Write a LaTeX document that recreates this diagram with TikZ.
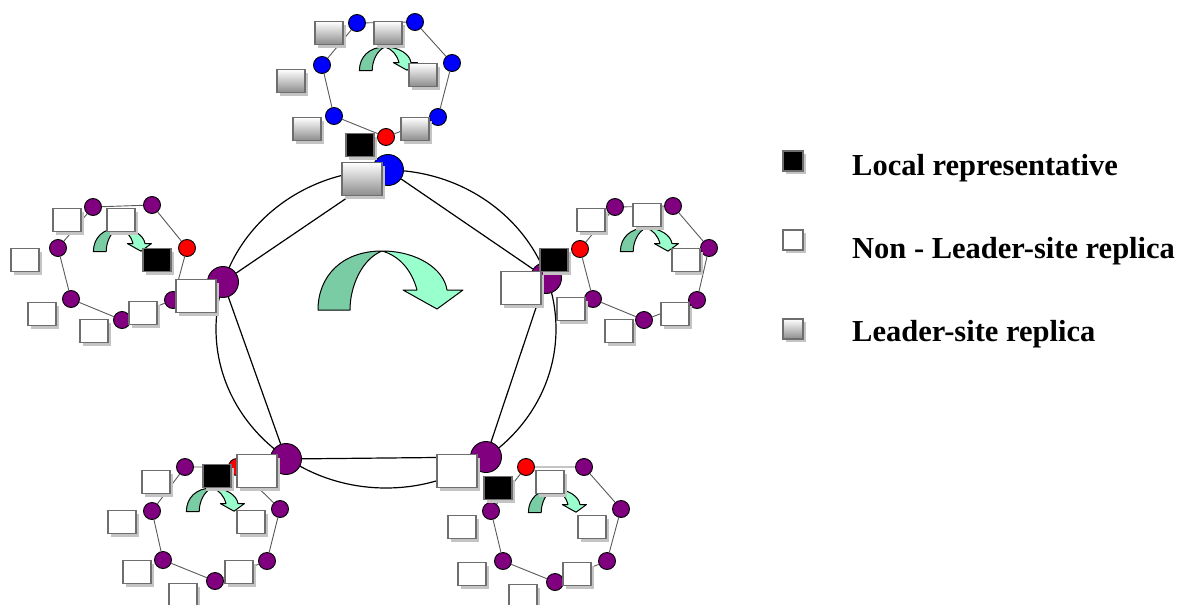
\documentclass[tikz,border=0pt]{standalone}
\usepackage{fontspec}
\setmainfont{Liberation Serif}
\usetikzlibrary{shadows}
\definecolor{sqborder}{HTML}{6E6E6E}
\definecolor{shadowgray}{HTML}{C4C4C4}
\definecolor{sitepurple}{HTML}{800080}
\definecolor{arrowdark}{HTML}{7ACCA5}
\definecolor{arrowlight}{HTML}{99FFCC}
\tikzset{
  x=1pt, y=-1pt,
  box/.style={rectangle, draw=sqborder, line width=1.9pt, inner sep=0pt,
    drop shadow={shadow xshift=3pt, shadow yshift=-3pt, fill=shadowgray, opacity=1}},
  plainbox/.style={box, fill=white, minimum width=28pt, minimum height=23pt},
  leadbox/.style={box, top color=white, bottom color=black!45, minimum width=28pt, minimum height=23pt},
  localbox/.style={box, fill=black, minimum width=28pt, minimum height=23pt},
  bigplain/.style={plainbox, minimum width=40pt, minimum height=33pt},
  biglead/.style={leadbox, minimum width=40pt, minimum height=33pt},
  legbox/.style={box, minimum width=20pt, minimum height=20pt, line width=1.5pt},
  dot/.style={circle, draw=black, line width=0.9pt, inner sep=0pt, minimum size=17pt},
  bigdot/.style={circle, draw=black, line width=0.9pt, inner sep=0pt, minimum size=31pt},
  link/.style={draw=black!65, line width=0.9pt},
  ring/.style={draw=black, line width=1.2pt},
  legtext/.style={anchor=base west, inner sep=0pt, font=\fontsize{30.5}{36}\selectfont\bfseries},
  curvarrow/.pic={
    \draw[line width=1pt, fill=arrowdark, line join=round]
      (0,0) .. controls (-40,0) and (-64,25) .. (-64,59) -- (-32,59)
      .. controls (-32,35) and (-20,8) .. (0,0) -- cycle;
    \draw[line width=1pt, fill=arrowlight, line join=round]
      (0,0) .. controls (35,0) and (62,18) .. (65,39) -- (81,39) -- (55,58)
      -- (21,39) -- (35,39) .. controls (30,20) and (18,5) .. (0,0) -- cycle;
  }
}
\begin{document}
\begin{tikzpicture}
\useasboundingbox (0,0) rectangle (1178,605);
\clip (0,0) rectangle (1178,605);

% ---- central ring of sites ----
\draw[ring] (386,329) ellipse [x radius=170pt, y radius=159pt];
\node[bigdot, fill=blue] (T) at (388,170) {};
\node[bigdot, fill=sitepurple] (L) at (223,282) {};
\node[bigdot, fill=sitepurple] (R) at (546,278) {};
\node[bigdot, fill=sitepurple] (BL) at (286,459) {};
\node[bigdot, fill=sitepurple] (BR) at (486,457) {};
\draw[ring] (T) -- (L) (L) -- (BL) (BL) -- (BR) (BR) -- (R) (R) -- (T);

\pic at (382,251) {curvarrow};

% ---- top site (leader site) ----
\node[dot, fill=blue] (t1) at (357,23) {};
\node[dot, fill=blue] (t2) at (415,22) {};
\node[dot, fill=blue] (t3) at (452,63) {};
\node[dot, fill=blue] (t4) at (438,117) {};
\node[dot, fill=red]  (t5) at (386,137) {};
\node[dot, fill=blue] (t6) at (334,116) {};
\node[dot, fill=blue] (t7) at (322,65) {};
\draw[link] (t1) -- (t2) (t2) -- (t3) (t3) -- (t4) (t4) -- (t5) (t5) -- (t6) (t6) -- (t7) (t7) -- (t1);
\pic[scale=0.4] at (385,47) {curvarrow};
\node[leadbox] (ta) at (329,33) {};
\node[leadbox] (tb) at (388,33) {};
\node[leadbox] (tc) at (423,75) {};
\node[leadbox] (td) at (291,81) {};
\node[leadbox] (te) at (307,129) {};
\node[leadbox] (tf) at (415,129) {};
\node[localbox] (tl) at (360,145) {};
\node[biglead] (tT) at (362,179) {};

% ---- left site ----
\node[dot, fill=sitepurple] (l1) at (93,207) {};
\node[dot, fill=sitepurple] (l2) at (152,205) {};
\node[dot, fill=red]        (l3) at (187,248) {};
\node[dot, fill=sitepurple] (l4) at (173,300) {};
\node[dot, fill=sitepurple] (l5) at (122,320) {};
\node[dot, fill=sitepurple] (l6) at (71,299) {};
\node[dot, fill=sitepurple] (l7) at (58,248) {};
\draw[link] (l1) -- (l2) (l2) -- (l3) (l3) -- (l4) (l4) -- (l5) (l5) -- (l6) (l6) -- (l7) (l7) -- (l1);
\pic[scale=0.4] at (119,228) {curvarrow};
\node[plainbox] (la) at (67,220) {};
\node[plainbox] (lb) at (121,220) {};
\node[plainbox] (lc) at (25,260) {};
\node[plainbox] (ld) at (42,314) {};
\node[plainbox] (le) at (94,331) {};
\node[plainbox] (lf) at (143,313) {};
\node[localbox] (ll) at (157,260) {};
\node[bigplain] (lL) at (196,296) {};

% ---- right site ----
\node[dot, fill=sitepurple] (r1) at (615,207) {};
\node[dot, fill=sitepurple] (r2) at (673,206) {};
\node[dot, fill=sitepurple] (r3) at (709,248) {};
\node[dot, fill=sitepurple] (r4) at (697,300) {};
\node[dot, fill=sitepurple] (r5) at (644,320) {};
\node[dot, fill=sitepurple] (r6) at (593,299) {};
\node[dot, fill=red]        (r7) at (580,249) {};
\draw[link] (r1) -- (r2) (r2) -- (r3) (r3) -- (r4) (r4) -- (r5) (r5) -- (r6) (r6) -- (r7) (r7) -- (r1);
\pic[scale=0.4] at (646,228) {curvarrow};
\node[plainbox] (ra) at (591,220) {};
\node[plainbox] (rb) at (647,215) {};
\node[plainbox] (rc) at (686,260) {};
\node[plainbox] (rd) at (571,309) {};
\node[plainbox] (re) at (619,331) {};
\node[plainbox] (rf) at (675,314) {};
\node[bigplain] (rR) at (521,288) {};
\node[localbox] (rl) at (554,260) {};

% ---- bottom-left site ----
\node[dot, fill=sitepurple] (a1) at (185,467) {};
\node[dot, fill=red]        (a2) at (237,467) {};
\node[dot, fill=sitepurple] (a3) at (280,509) {};
\node[dot, fill=sitepurple] (a4) at (267,561) {};
\node[dot, fill=sitepurple] (a5) at (215,581) {};
\node[dot, fill=sitepurple] (a6) at (163,560) {};
\node[dot, fill=sitepurple] (a7) at (152,511) {};
\draw[link] (a1) -- (a2) (a2) -- (a3) (a3) -- (a4) (a4) -- (a5) (a5) -- (a6) (a6) -- (a7) (a7) -- (a1);
\pic[scale=0.4] at (212,488) {curvarrow};
\node[plainbox] (aa) at (156,482) {};
\node[plainbox] (ab) at (122,522) {};
\node[plainbox] (ac) at (251,522) {};
\node[plainbox] (ad) at (137,572) {};
\node[plainbox] (ae) at (183,595) {};
\node[plainbox] (af) at (239,572) {};
\node[localbox] (al) at (217,476) {};
\node[bigplain] (aA) at (257,471) {};

% ---- bottom-right site ----
\node[dot, fill=red]        (b1) at (526,467) {};
\node[dot, fill=sitepurple] (b2) at (584,467) {};
\node[dot, fill=sitepurple] (b3) at (621,509) {};
\node[dot, fill=sitepurple] (b4) at (607,561) {};
\node[dot, fill=sitepurple] (b5) at (555,582) {};
\node[dot, fill=sitepurple] (b6) at (503,561) {};
\node[dot, fill=sitepurple] (b7) at (491,511) {};
\draw[link] (b1) -- (b2) (b2) -- (b3) (b3) -- (b4) (b4) -- (b5) (b5) -- (b6) (b6) -- (b7) (b7) -- (b1);
\pic[scale=0.4] at (554,489) {curvarrow};
\node[plainbox] (ba) at (550,482) {};
\node[plainbox] (bb) at (462,527) {};
\node[plainbox] (bc) at (592,527) {};
\node[plainbox] (bd) at (472,574) {};
\node[plainbox] (be) at (523,596) {};
\node[plainbox] (bf) at (577,574) {};
\node[bigplain] (bB) at (457,471) {};
\node[localbox] (bl) at (498,488) {};

% ---- legend ----
\node[legbox, fill=black] (k1) at (793,161) {};
\node[legbox, fill=white] (k2) at (793,240) {};
\node[legbox, top color=white, bottom color=black!45] (k3) at (793,329) {};
\node[legtext] (k1t) at (852,175) {Local representative};
\node[legtext] (k2t) at (852,258) {Non - Leader-site replica};
\node[legtext] (k3t) at (852,341) {Leader-site replica};
\end{tikzpicture}
\end{document}
